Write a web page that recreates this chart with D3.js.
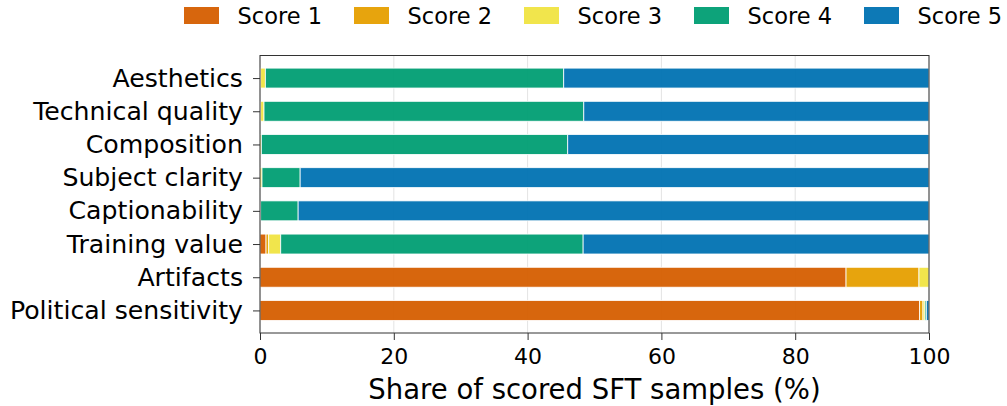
<!DOCTYPE html>
<html><head><meta charset="utf-8">
<script src="https://cdn.jsdelivr.net/npm/d3@7"></script>
<style>body{margin:0;background:#fff;}svg{display:block;font-family:"DejaVu Sans",sans-serif;}</style>
</head><body><svg id="c" width="1007" height="406"></svg>
<script>
const categories = ["Aesthetics","Technical quality","Composition","Subject clarity","Captionability","Training value","Artifacts","Political sensitivity"];
const seriesNames = ["Score 1","Score 2","Score 3","Score 4","Score 5"];
const colors = ["#D55E00","#E69F00","#F0E442","#009E73","#0072B2"];
const score1 = [0.0, 0.0, 0.0, 0.0, 0.0, 0.9, 87.6, 98.6];
const score2 = [0.1, 0.1, 0.0, 0.0, 0.0, 0.4, 10.9, 0.5];
const score3 = [0.7, 0.5, 0.2, 0.3, 0.1, 1.8, 1.5, 0.3];
const score4 = [44.6, 47.8, 45.8, 5.7, 5.6, 45.2, 0.0, 0.2];
const score5 = [54.6, 51.6, 54.0, 94.0, 94.3, 51.7, 0.0, 0.4];
const xTicks = [0,20,40,60,80,100];

const svg = d3.select("#c");
const m = {left:260, right:929, top:55.5, bottom:333};
const x = d3.scaleLinear().domain([0,100]).range([m.left, m.right]);
const y = d3.scaleLinear().domain([-0.68, 7.68]).range([m.top, m.bottom]);
const bh = 0.6;

// grid
svg.append("g").selectAll("line").data(xTicks).join("line")
  .attr("x1", d=>x(d)).attr("x2", d=>x(d)).attr("y1", m.top).attr("y2", m.bottom)
  .attr("stroke", "#dcdcdc").attr("stroke-width", 0.8);

const series = [score1, score2, score3, score4, score5];
const rows = categories.map((c,i)=>{ const o={cat:c}; seriesNames.forEach((s,j)=>o[s]=series[j][i]); return o; });
const stack = d3.stack().keys(seriesNames)(rows);
svg.append("g").selectAll("g").data(stack).join("g")
  .attr("fill", (d,i)=>colors[i]).attr("fill-opacity", 0.95)
  .selectAll("rect").data(d=>d.map((v,i)=>({v,i}))).join("rect")
  .attr("x", d=>x(d.v[0])).attr("width", d=>Math.max(0, x(d.v[1])-x(d.v[0])))
  .attr("y", d=>y(d.i - bh/2)).attr("height", d=>y(d.i+bh/2)-y(d.i-bh/2))
  .attr("stroke", "#fff").attr("stroke-width", d=>(d.v[1]-d.v[0])>0?0.8:0);

// axes
const xa = svg.append("g").attr("transform", `translate(0,${m.bottom})`)
  .call(d3.axisBottom(x).tickValues(xTicks).tickSize(7).tickPadding(8).tickFormat(d3.format("d")));
xa.select(".domain").remove();
xa.selectAll("text").attr("font-size", 22).attr("fill","#000").attr("font-family","DejaVu Sans");
xa.selectAll("line").attr("stroke","#333");
const ya = svg.append("g").attr("transform", `translate(${m.left},0)`)
  .call(d3.axisLeft(y).tickValues(d3.range(categories.length)).tickSize(7).tickPadding(10).tickFormat(i=>categories[i]));
ya.select(".domain").remove();
ya.selectAll("text").attr("font-size", 25.2).attr("fill","#000").attr("font-family","DejaVu Sans");
ya.selectAll("line").attr("stroke","#333");

svg.append("rect").attr("x", m.left).attr("y", m.top).attr("width", m.right-m.left).attr("height", m.bottom-m.top)
  .attr("fill","none").attr("stroke","#333").attr("stroke-width",1);

svg.append("text").attr("x", (m.left+m.right)/2).attr("y", 399).attr("text-anchor","middle")
  .attr("font-size", 27.5).text("Share of scored SFT samples (%)");

// legend
const lg = svg.append("g").selectAll("g").data(seriesNames).join("g")
  .attr("transform", (d,i)=>`translate(${184 + i*170},7)`);
lg.append("rect").attr("width", 35).attr("height", 17).attr("fill", (d,i)=>colors[i]).attr("fill-opacity",0.95);
lg.append("text").attr("x", 53.5).attr("y", 17).attr("font-size", 22.5).text(d=>d);
</script></body></html>
